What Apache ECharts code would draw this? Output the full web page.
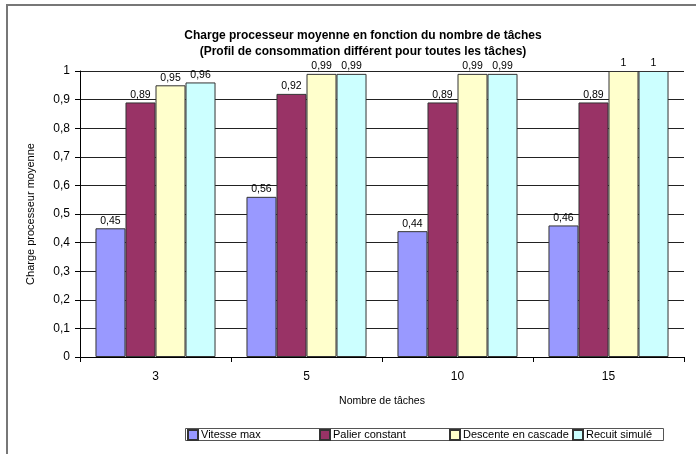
<!DOCTYPE html>
<html>
<head>
<meta charset="utf-8">
<script src="https://cdn.jsdelivr.net/npm/echarts@6/dist/echarts.min.js"></script>
<style>
html,body{margin:0;padding:0;background:#fff;}
#chart{width:696px;height:454px;}
</style>
</head>
<body>
<div id="chart"></div>
<script>
const categories = ['3', '5', '10', '15'];
const vitesseMax = [0.45, 0.56, 0.44, 0.46];
const palierConstant = [0.89, 0.92, 0.89, 0.89];
const descenteCascade = [0.95, 0.99, 0.99, 1];
const recuitSimule = [0.96, 0.99, 0.99, 1];
const seriesNames = ['Vitesse max', 'Palier constant', 'Descente en cascade', 'Recuit simulé'];
const yTicks = [0, 0.1, 0.2, 0.3, 0.4, 0.5, 0.6, 0.7, 0.8, 0.9, 1];

const colors = ['#9999FF', '#993366', '#FFFFCC', '#CCFFFF'];
const font = 'Liberation Sans, Arial, sans-serif';
const fmt = v => String(Math.round(v * 100) / 100).replace('.', ',');

const chart = echarts.init(document.getElementById('chart'), null, {renderer: 'canvas'});
const data = [vitesseMax, palierConstant, descenteCascade, recuitSimule];
const legendLefts = [187, 319, 449, 572];

chart.setOption({
  animation: false,
  backgroundColor: '#fff',
  title: {
    text: 'Charge processeur moyenne en fonction du nombre de tâches\n(Profil de consommation différent pour toutes les tâches)',
    left: 358, top: 23, textAlign: 'center',
    textStyle: {fontFamily: font, fontSize: 12, fontWeight: 'bold', color: '#000', lineHeight: 16}
  },
  graphic: [
    {type: 'rect', shape: {x: 7, y: 5, width: 720, height: 480}, style: {fill: 'none', stroke: '#777', lineWidth: 2}, silent: true},
    {type: 'rect', shape: {x: 185.5, y: 428.5, width: 478, height: 12}, style: {fill: '#fff', stroke: '#555', lineWidth: 1}, z: -1, silent: true}
  ],
  legend: seriesNames.map((n, i) => ({
    left: legendLefts[i], top: 429, itemWidth: 10, itemHeight: 10, padding: 0,
    icon: 'rect', data: [n],
    textStyle: {fontFamily: font, fontSize: 11, color: '#000', padding: [0, 0, 0, -2]}
  })),
  grid: {left: 80, right: 12, top: 71, bottom: 97, containLabel: false},
  xAxis: {
    type: 'category', data: categories,
    name: 'Nombre de tâches', nameLocation: 'middle', nameGap: 39,
    nameTextStyle: {fontFamily: font, fontSize: 10.5, color: '#000'},
    axisLine: {lineStyle: {color: '#000', width: 1}},
    axisTick: {show: true, length: 5, lineStyle: {color: '#000'}},
    axisLabel: {fontFamily: font, fontSize: 12, color: '#000', margin: 14}
  },
  yAxis: {
    type: 'value', min: 0, max: 1, interval: 0.1,
    name: 'Charge processeur moyenne', nameLocation: 'middle', nameGap: 44,
    nameTextStyle: {fontFamily: font, fontSize: 11, color: '#000'},
    axisLine: {show: true, lineStyle: {color: '#000'}},
    axisTick: {show: true, length: 5, lineStyle: {color: '#000'}},
    axisLabel: {fontFamily: font, fontSize: 12, color: '#000', margin: 10, formatter: v => fmt(v)},
    splitLine: {show: true, lineStyle: {color: '#222', width: 1}}
  },
  series: seriesNames.map((n, i) => ({
    name: n, type: 'bar', data: data[i],
    barGap: '0%', barCategoryGap: '20.5%',
    itemStyle: {color: colors[i], borderColor: '#333', borderWidth: 1},
    label: {show: true, position: 'top', distance: 2, fontFamily: font, fontSize: 10.5, color: '#000', formatter: p => fmt(p.value)}
  }))
});
</script>
</body>
</html>
